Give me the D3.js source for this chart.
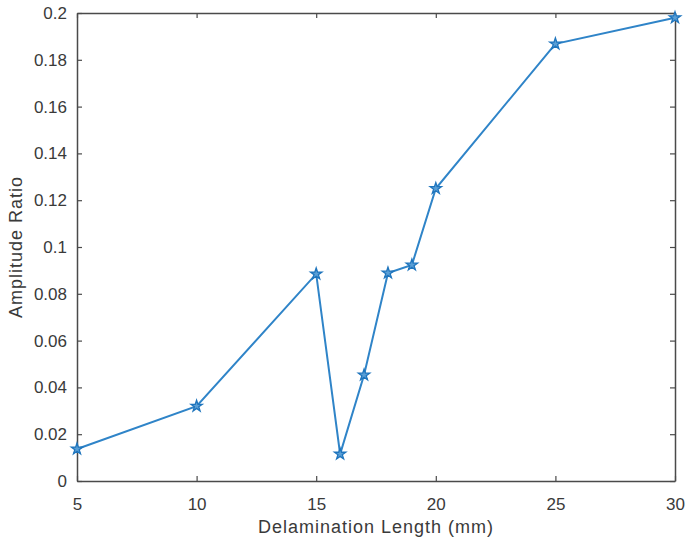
<!DOCTYPE html>
<html>
<head>
<meta charset="utf-8">
<script src="https://cdn.jsdelivr.net/npm/d3@7"></script>
<style>
  body { margin: 0; background: #fff; }
  text { font-family: "Liberation Sans", Arial, sans-serif; fill: #3a3a3a; }
</style>
</head>
<body>
<div id="chart"></div>
<script>
// Data
const lengths = [5, 10, 15, 16, 17, 18, 19, 20, 25, 30];
const ratios = [0.0137, 0.032, 0.0885, 0.0115, 0.0453, 0.0889, 0.0923, 0.125, 0.1868, 0.198];
const xTicks = [5, 10, 15, 20, 25, 30];
const yTicks = [0, 0.02, 0.04, 0.06, 0.08, 0.1, 0.12, 0.14, 0.16, 0.18, 0.2];

const width = 687, height = 548;
const margin = {top: 13, right: 12, bottom: 67, left: 77};

const svg = d3.select("#chart").append("svg")
    .attr("width", width)
    .attr("height", height);

const xScale = d3.scaleLinear()
    .domain([5, 30])
    .range([margin.left, width - margin.right]);

const yScale = d3.scaleLinear()
    .domain([0, 0.2])
    .range([height - margin.bottom, margin.top]);

const axisColor = "#4a4a4a";

// Axes (MATLAB style: inward ticks on all sides)
function styleAxis(g) {
    g.selectAll(".domain").attr("stroke", axisColor).attr("stroke-width", 1.5);
    g.selectAll(".tick line").attr("stroke", axisColor).attr("stroke-width", 1.2);
    g.selectAll(".tick text").style("font-size", "17px");
}

svg.append("g")
    .attr("transform", `translate(0,${height - margin.bottom})`)
    .call(d3.axisBottom(xScale).tickValues(xTicks).tickSizeInner(-5).tickSizeOuter(0).tickPadding(17))
    .call(styleAxis);

svg.append("g")
    .attr("transform", `translate(0,${margin.top})`)
    .call(d3.axisTop(xScale).tickValues(xTicks).tickSizeInner(-5).tickSizeOuter(0).tickFormat(""))
    .call(styleAxis);

svg.append("g")
    .attr("transform", `translate(${margin.left},0)`)
    .call(d3.axisLeft(yScale).tickValues(yTicks).tickSizeInner(-5).tickSizeOuter(0).tickPadding(10)
        .tickFormat(d => d === 0 ? "0" : String(+d.toFixed(2))))
    .call(styleAxis);

svg.append("g")
    .attr("transform", `translate(${width - margin.right},0)`)
    .call(d3.axisRight(yScale).tickValues(yTicks).tickSizeInner(-5).tickSizeOuter(0).tickFormat(""))
    .call(styleAxis);

// Line
const data = lengths.map((x, i) => ({x, y: ratios[i]}));
const line = d3.line()
    .x(d => xScale(d.x))
    .y(d => yScale(d.y));

svg.append("path")
    .datum(data)
    .attr("fill", "none")
    .attr("stroke", "#2f84c8")
    .attr("stroke-width", 2)
    .attr("d", line);

// Star markers
svg.selectAll(".marker")
    .data(data)
    .join("path")
    .attr("class", "marker")
    .attr("transform", d => `translate(${xScale(d.x)},${yScale(d.y)})`)
    .attr("d", d3.symbol(d3.symbolStar, 40))
    .attr("fill", "#5a9fd6")
    .attr("stroke", "#1f75bd")
    .attr("stroke-width", 1.3);

// Axis labels
svg.append("text")
    .attr("x", (margin.left + width - margin.right) / 2)
    .attr("y", 533)
    .attr("text-anchor", "middle")
    .style("font-size", "18px")
    .style("letter-spacing", "1px")
    .text("Delamination Length (mm)");

svg.append("text")
    .attr("transform", `translate(22,${(margin.top + height - margin.bottom) / 2}) rotate(-90)`)
    .attr("text-anchor", "middle")
    .style("font-size", "18px")
    .style("letter-spacing", "1px")
    .text("Amplitude Ratio");
</script>
</body>
</html>
